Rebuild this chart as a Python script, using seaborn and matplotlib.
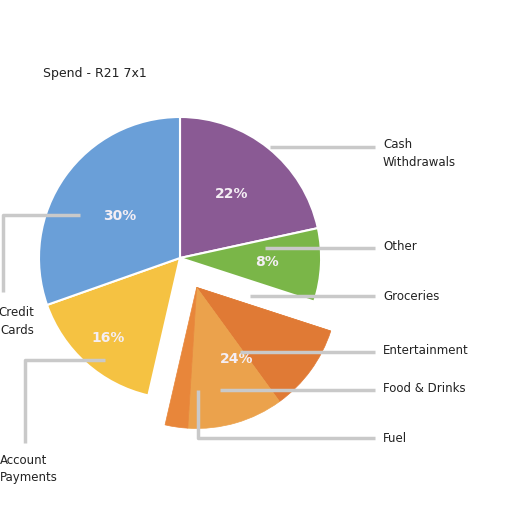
import numpy as np
import matplotlib
matplotlib.use("Agg")
import matplotlib.pyplot as plt
import seaborn as sns

# slice data, clockwise from 12 o'clock
categories = ['Cash\nWithdrawals', 'Other', 'Groceries', 'Entertainment',
              'Food & Drinks', 'Fuel', 'Account\nPayments', 'Credit\nCards']
values = [21.6, 8.4, 0, 10, 11, 2.6, 16, 30.4]
colours = ['#8a5a94', '#7ab648', '#e9812f', '#e07a35',
           '#eba24c', '#e8863a', '#f5c242', '#6a9fd8']
# groups that get one percentage label each
groups = [[0], [1], [2, 3, 4, 5], [6], [7]]
title = 'Spend - R21 7x1'

sns.set_theme(style='white')
plt.rcParams['font.family'] = ['DejaVu Sans']

fig = plt.figure(figsize=(5.12, 5.12), dpi=100)
ax = fig.add_axes([0, 0, 1, 1])

H = 512
cx, cy, R = 180, H - 258, 141
explode = [0.03, 0.08, 0.0, 0.0, 0.0, 0.0, 0.05, 0.01]

wedges, _ = ax.pie(values, colors=colours, startangle=90, counterclock=False,
                   radius=R, center=(cx, cy), explode=explode,
                   wedgeprops=dict(edgecolor='white', linewidth=1.5))

# pull the orange group out together, no white seams inside it
orange = groups[2]
t1 = min(wedges[i].theta1 for i in orange)
t2 = max(wedges[i].theta2 for i in orange)
mid = np.deg2rad((t1 + t2) / 2)
for i in orange:
    wedges[i].set_center((cx + 0.24 * R * np.cos(mid), cy + 0.24 * R * np.sin(mid)))
    wedges[i].set_edgecolor(colours[i])
    wedges[i].set_linewidth(0.5)

# how far out each percentage label sits (fraction of radius)
label_r = [0.58, 0.62, 0.58, 0.76, 0.52]
total = sum(values)
for g, lr in zip(groups, label_r):
    share = sum(values[i] for i in g) / total * 100
    a1 = min(wedges[i].theta1 for i in g)
    a2 = max(wedges[i].theta2 for i in g)
    m = np.deg2rad((a1 + a2) / 2)
    ox, oy = wedges[g[0]].center
    ax.text(ox + lr * R * np.cos(m), oy + lr * R * np.sin(m), f'{share:.0f}%',
            ha='center', va='center', color='#f4eef4', fontsize=10, fontweight='bold')

# leader lines (pixel layout) and labels
line_kw = dict(color='#c9c9c9', lw=2.5, solid_capstyle='butt', zorder=3)
leaders = {
    'Cash\nWithdrawals': [(270, 147), (375, 147)],
    'Other': [(265, 248), (375, 248)],
    'Groceries': [(250, 296), (375, 296)],
    'Entertainment': [(240, 352), (375, 352)],
    'Food & Drinks': [(220, 390), (375, 390)],
    'Fuel': [(198, 390), (198, 438), (375, 438)],
    'Credit\nCards': [(80, 215), (3, 215), (3, 292)],
    'Account\nPayments': [(105, 360), (25, 360), (25, 443)],
}
label_pos = {
    'Cash\nWithdrawals': (383, 153, 'left'),
    'Other': (383, 247, 'left'),
    'Groceries': (383, 296, 'left'),
    'Entertainment': (383, 350, 'left'),
    'Food & Drinks': (383, 389, 'left'),
    'Fuel': (383, 438, 'left'),
    'Credit\nCards': (34, 321, 'right'),
    'Account\nPayments': (0, 469, 'left'),
}
for name in categories:
    pts = leaders[name]
    ax.plot([p[0] for p in pts], [H - p[1] for p in pts], **line_kw)
    x, y, ha = label_pos[name]
    ax.text(x, H - y, name, ha=ha, va='center', fontsize=8.5, color='#222222',
            linespacing=1.5)

ax.text(43, H - 73, title, ha='left', va='center', fontsize=9, color='#222222')

ax.set_xlim(0, 512)
ax.set_ylim(0, 512)
ax.set_aspect('equal')
ax.axis('off')

fig.savefig('out.png', dpi=100)
